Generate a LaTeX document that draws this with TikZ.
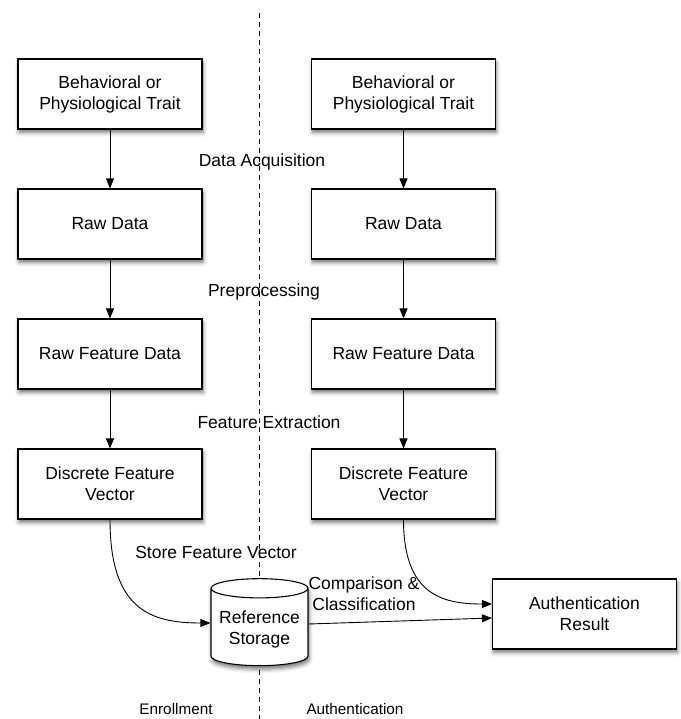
\documentclass[tikz,border=0pt]{standalone}
\usepackage{fontspec}
\setmainfont{Liberation Sans}
\usetikzlibrary{shapes.geometric, arrows.meta, shadows.blur}
\tikzstyle{item} = [rectangle, minimum width=184pt, minimum height=70pt, text centered, align=center, draw=black, line width=1.1pt, fill=white, blur shadow={shadow xshift=1pt, shadow yshift=-3.5pt, shadow blur radius=4pt, shadow opacity=55}]
\tikzstyle{store} = [cylinder, shape border rotate=90, aspect=0.22, minimum width=97pt, minimum height=87pt, align=center, draw=black, line width=1.1pt, fill=white, blur shadow={shadow xshift=1pt, shadow yshift=-3.5pt, shadow blur radius=4pt, shadow opacity=55}]
\tikzstyle{arrow} = [line width=0.9pt, ->, >={Triangle[length=10pt, width=8pt]}]
\tikzstyle{tag} = [font=\fontsize{15.3}{18}\selectfont]

\begin{document}
\begin{tikzpicture}[node distance=130pt, font=\fontsize{17.5}{21}\selectfont]
\useasboundingbox (0,0) rectangle (680pt,-719pt);
% divider between the two phases
\coordinate(divtop) at (259pt,-13pt);
\coordinate(divbot) at (259pt,-719pt);
\draw[line width=0.9pt, dash pattern=on 5pt off 4pt] (divtop) -- (divbot);
% enrollment column
\node(e1)[item] at (110pt,-94pt) {Behavioral or\\Physiological Trait};
\node(e2)[item, below of=e1]{Raw Data};
\draw[arrow] (e1) -- (e2);
\node(e3)[item, below of=e2]{Raw Feature Data};
\draw[arrow] (e2) -- (e3);
\node(e4)[item, below of=e3]{Discrete Feature\\Vector};
\draw[arrow] (e3) -- (e4);
% authentication column
\node(a1)[item, right of=e1, xshift=163.5pt]{Behavioral or\\Physiological Trait};
\node(a2)[item, below of=a1]{Raw Data};
\draw[arrow] (a1) -- (a2);
\node(a3)[item, below of=a2]{Raw Feature Data};
\draw[arrow] (a2) -- (a3);
\node(a4)[item, below of=a3]{Discrete Feature\\Vector};
\draw[arrow] (a3) -- (a4);
% stage names
\node(acq) at (262pt,-162pt) {Data Acquisition};
\node(pre) at (264pt,-292pt) {Preprocessing};
\node(ext) at (269pt,-422pt) {Feature Extraction};
\node(keep) at (216pt,-552pt) {Store Feature Vector};
\node(cmp)[align=center] at (364pt,-594pt) {Comparison \&\\Classification};
% storage and result
\node(refstore)[store] at (259.5pt,-629pt) {Reference\\Storage};
\node(result)[item] at (584.5pt,-614pt) {Authentication\\Result};
\draw[arrow] (e4.south) .. controls +(0,-90pt) and +(-60pt,0) .. ([yshift=6pt]refstore.west);
\draw[arrow] (a4.south) .. controls +(0,-75pt) and +(-50pt,0) .. ([yshift=10pt]result.west);
\draw[arrow] ([yshift=5pt]refstore.east) -- ([yshift=-4pt]result.west);
% phase names
\node(enr)[tag] at (176pt,-709pt) {Enrollment};
\node(auth)[tag] at (355pt,-709pt) {Authentication};
\end{tikzpicture}
\end{document}
